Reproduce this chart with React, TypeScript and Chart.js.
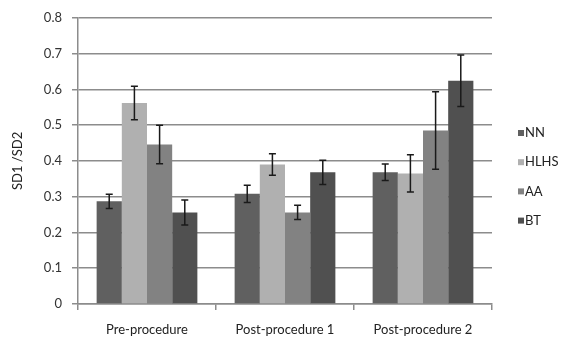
import React, { useEffect, useRef } from "react";
import { Chart, registerables } from "chart.js";

Chart.register(...registerables);

const categories = ["Pre-procedure", "Post-procedure 1", "Post-procedure 2"];
const seriesNames = ["NN", "HLHS", "AA", "BT"];
const nnValues = [0.287, 0.308, 0.368];
const hlhsValues = [0.562, 0.39, 0.365];
const aaValues = [0.446, 0.256, 0.485];
const btValues = [0.256, 0.368, 0.624];
const nnErrors = [0.02, 0.024, 0.023];
const hlhsErrors = [0.047, 0.03, 0.052];
const aaErrors = [0.054, 0.02, 0.108];
const btErrors = [0.035, 0.034, 0.072];
const yTicks = [0, 0.1, 0.2, 0.3, 0.4, 0.5, 0.6, 0.7, 0.8];
const yTitle = "SD1 /SD2";

const seriesValues = [nnValues, hlhsValues, aaValues, btValues];
const seriesErrors = [nnErrors, hlhsErrors, aaErrors, btErrors];
const seriesColors = ["#606060", "#b0b0b0", "#828282", "#505050"];

const FONT = "Lato, 'Open Sans', 'Liberation Sans', sans-serif";

const errorBarPlugin = {
  id: "errorBars",
  afterDatasetsDraw(chart: any) {
    const ctx = chart.ctx;
    const yScale = chart.scales.y;
    ctx.save();
    ctx.strokeStyle = "#1a1a1a";
    ctx.lineWidth = 1.5;
    chart.data.datasets.forEach((ds: any, di: number) => {
      const meta = chart.getDatasetMeta(di);
      meta.data.forEach((bar: any, i: number) => {
        const v = ds.data[i];
        const e = seriesErrors[di][i];
        const x = bar.x;
        const yTop = yScale.getPixelForValue(v + e);
        const yBot = yScale.getPixelForValue(v - e);
        const cap = 3.5;
        ctx.beginPath();
        ctx.moveTo(x, yTop);
        ctx.lineTo(x, yBot);
        ctx.moveTo(x - cap, yTop);
        ctx.lineTo(x + cap, yTop);
        ctx.moveTo(x - cap, yBot);
        ctx.lineTo(x + cap, yBot);
        ctx.stroke();
      });
    });
    ctx.restore();
  },
};

const legendPlugin = {
  id: "sideLegend",
  afterDraw(chart: any) {
    const ctx = chart.ctx;
    const area = chart.chartArea;
    const x0 = area.right + 26;
    const yStart = 133;
    const step = 29.2;
    ctx.save();
    ctx.font = "13px " + FONT;
    ctx.textBaseline = "middle";
    ctx.textAlign = "left";
    chart.data.datasets.forEach((ds: any, i: number) => {
      const y = yStart + i * step;
      ctx.fillStyle = ds.backgroundColor;
      ctx.fillRect(x0, y - 3, 6, 6);
      ctx.fillStyle = "#222";
      ctx.fillText(ds.label, x0 + 7, y);
    });
    ctx.restore();
  },
};

export default function App() {
  const canvasRef = useRef<HTMLCanvasElement | null>(null);

  useEffect(() => {
    document.body.style.margin = "0";
    const canvas = canvasRef.current;
    if (!canvas) return;
    const chart = new Chart(canvas, {
      type: "bar",
      data: {
        labels: categories,
        datasets: seriesNames.map((name, i) => ({
          label: name,
          data: seriesValues[i],
          backgroundColor: seriesColors[i],
          borderWidth: 0,
          barPercentage: 1,
          categoryPercentage: 0.73,
        })),
      },
      options: {
        animation: false,
        responsive: false,
        maintainAspectRatio: false,
        layout: { padding: { left: 0, right: 78, top: 9, bottom: 0 } },
        plugins: {
          legend: { display: false },
          tooltip: { enabled: false },
        },
        scales: {
          x: {
            grid: {
              display: true,
              drawOnChartArea: false,
              offset: true,
              tickLength: 6,
              color: "#8c8c8c",
              lineWidth: 1.5,
            },
            border: { color: "#8c8c8c", width: 1.5 },
            ticks: {
              color: "#222",
              font: { family: FONT, size: 13 },
              padding: 12,
            },
            afterFit(scale: any) {
              scale.height = 35;
            },
          },
          y: {
            min: 0,
            max: 0.8,
            afterBuildTicks(scale: any) {
              scale.ticks = yTicks.map((v) => ({ value: v }));
            },
            ticks: {
              color: "#333",
              font: { family: FONT, size: 13 },
              padding: 10,
              callback: (v: any) => String(Math.round(Number(v) * 10) / 10),
            },
            grid: {
              color: "#8c8c8c",
              lineWidth: 1.5,
              tickLength: 6,
            },
            border: { color: "#8c8c8c", width: 1.5 },
            title: {
              display: true,
              text: yTitle,
              color: "#222",
              font: { family: FONT, size: 13 },
              padding: { top: 10, bottom: 4 },
            },
            afterFit(scale: any) {
              scale.width = 78;
            },
          },
        },
      },
      plugins: [errorBarPlugin, legendPlugin],
    });
    return () => chart.destroy();
  }, []);

  return (
    <div style={{ width: 570, height: 339, background: "#fff" }}>
      <canvas ref={canvasRef} width={570} height={339} style={{ display: "block" }} />
    </div>
  );
}
